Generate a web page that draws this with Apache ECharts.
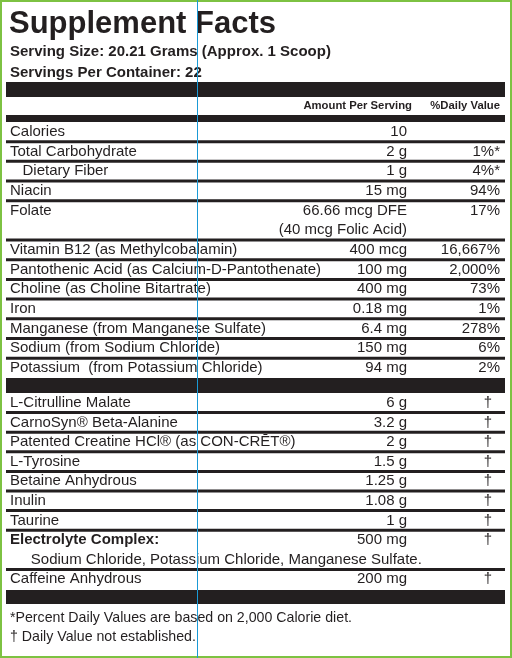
<!DOCTYPE html>
<html><head><meta charset="utf-8">
<script src="https://cdn.jsdelivr.net/npm/echarts@6/dist/echarts.min.js"></script>
<style>html,body{margin:0;padding:0;background:#fff}#c{width:512px;height:658px}</style>
</head><body><div id="c"></div>
<script>
const title = "Supplement Facts";
const servingSize = "Serving Size: 20.21 Grams (Approx. 1 Scoop)";
const servingsPer = "Servings Per Container: 22";
const headerLabels = ["Amount Per Serving", "%Daily Value"];
// section 1
const names1 = ["Calories","Total Carbohydrate","   Dietary Fiber","Niacin","Folate","Vitamin B12 (as Methylcobalamin)","Pantothenic Acid (as Calcium-D-Pantothenate)","Choline (as Choline Bitartrate)","Iron","Manganese (from Manganese Sulfate)","Sodium (from Sodium Chloride)","Potassium  (from Potassium Chloride)"];
const amounts1 = ["10","2 g","1 g","15 mg","66.66 mcg DFE\n(40 mcg Folic Acid)","400 mcg","100 mg","400 mg","0.18 mg","6.4 mg","150 mg","94 mg"];
const dvs1 = ["","1%*","4%*","94%","17%","16,667%","2,000%","73%","1%","278%","6%","2%"];
// section 2
const names2 = ["L-Citrulline Malate","CarnoSyn® Beta-Alanine","Patented Creatine HCl® (as CON-CRĒT®)","L-Tyrosine","Betaine Anhydrous","Inulin","Taurine","Electrolyte Complex:\n     Sodium Chloride, Potassium Chloride, Manganese Sulfate.","Caffeine Anhydrous"];
const amounts2 = ["6 g","3.2 g","2 g","1.5 g","1.25 g","1.08 g","1 g","500 mg","200 mg"];
const dvs2 = ["†","†","†","†","†","†","†","†","†"];
const footnotes = ["*Percent Daily Values are based on 2,000 Calorie diet.","† Daily Value not established."];

const C = '#231f20', F = '"Liberation Sans", Arial, sans-serif';
const L = 6, R = 505, AMT = 407, DV = 500, LH = 19.68;
const g = [];
const rect = (x,y,w,h,fill)=>g.push({type:'rect',shape:{x,y,width:w,height:h},style:{fill}});
const txt = (x,y,t,size,weight,align,extra)=>g.push({type:'text',x,y,style:Object.assign({text:t,fill:C,font:`${weight||'normal'} ${size}px ${F}`,align:align||'left',verticalAlign:'middle',lineHeight:LH},extra||{})});

txt(9,24,title,31,'bold');
txt(10,52,servingSize,15,'bold');
txt(10,73,servingsPer,15,'bold');
rect(L,82,R-L,15,C);
txt(412,106,headerLabels[0],11.3,'bold','right');
txt(500,106,headerLabels[1],11.3,'bold','right');
rect(L,115,R-L,7,C);

function section(names,amts,dvs,top,lh){
  let y = top;
  names.forEach((n,i)=>{
    const lines = Math.max(n.split('\n').length, amts[i].split('\n').length);
    if(i>0) rect(L,y-1.5,R-L,3,C);
    const cy = y + lh/2;
    const bold = n.startsWith('Electrolyte');
    n.split('\n').forEach((s,k)=>txt(10,cy+k*lh,s,15,(bold&&k===0)?'bold':'normal','left'));
    amts[i].split('\n').forEach((s,k)=>txt(AMT,cy+k*lh,s,15,'normal','right'));
    if(dvs[i]==='†') txt(488,cy,dvs[i],15,'normal','center');
    else txt(DV,cy,dvs[i],15,'normal','right');
    y += lines*lh;
  });
  return y;
}
section(names1,amounts1,dvs1,122,19.68);
rect(L,378,R-L,15,C);
section(names2,amounts2,dvs2,393,19.6);
rect(L,590,R-L,14,C);
txt(10,618,footnotes[0],14.2);
txt(10,637,footnotes[1],14.2);
g.push({type:'rect',shape:{x:1,y:1,width:510,height:656},style:{fill:null,stroke:'#7dc242',lineWidth:2}});
g.push({type:'line',shape:{x1:197.5,y1:0,x2:197.5,y2:658},style:{stroke:'#1a9ad6',lineWidth:1}});

const chart = echarts.init(document.getElementById('c'));
chart.setOption({animation:false,graphic:{elements:g}});
</script></body></html>
